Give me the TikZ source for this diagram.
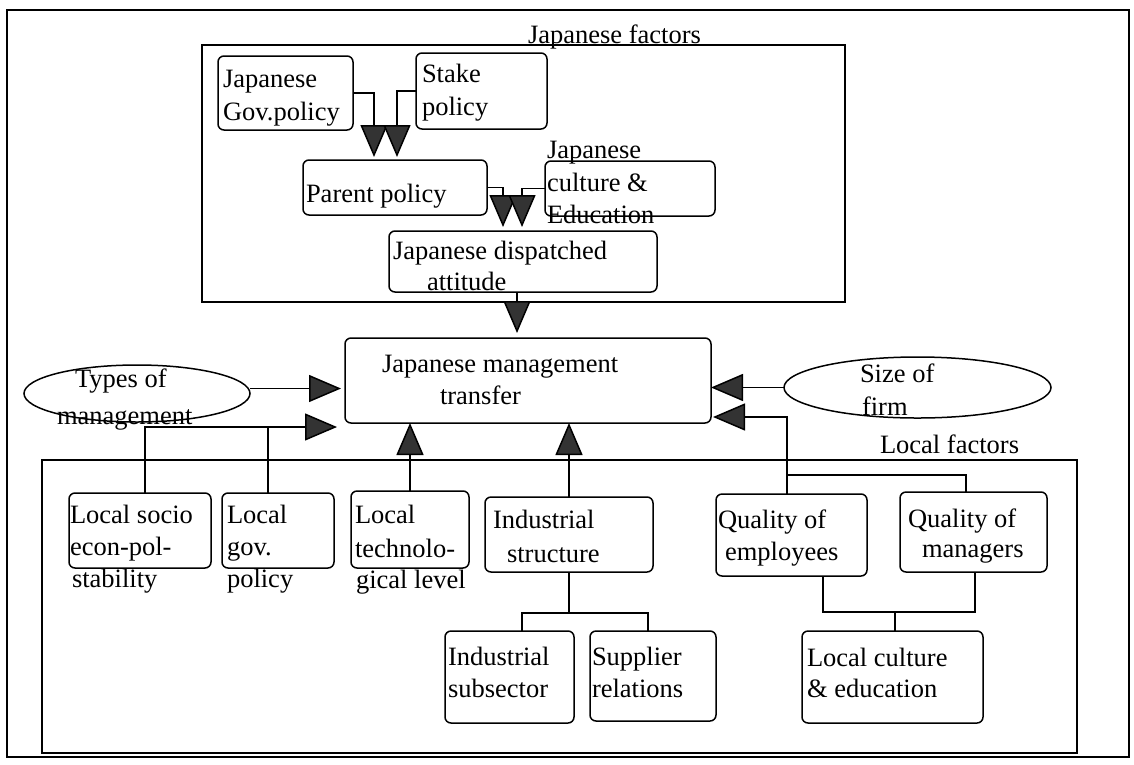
\documentclass[tikz,border=0pt]{standalone}
\usepackage{fontspec}
\setmainfont{Liberation Serif}
\usetikzlibrary{arrows.meta,shapes.geometric}

\begin{document}
\begin{tikzpicture}[x=1pt,y=-1pt,
  every node/.style={inner sep=0pt, outer sep=0pt},
  lbl/.style={anchor=base west, font=\fontsize{26.5}{32}\selectfont},
  factor/.style={draw, line width=1.5pt, rounded corners=6pt},
  oval/.style={draw, line width=1.5pt, ellipse},
  frame/.style={draw, line width=1.5pt},
  link/.style={line width=1.5pt},
  arr/.style={link, -{Triangle[length=32pt,width=27pt,fill=black!80]}},
]
\useasboundingbox (0,0) rectangle (1134,764);

% frames
\draw[frame] (7,10) rectangle (1129,757);
\draw[frame] (202,45) rectangle (845,302);
\draw[frame] (42,460) rectangle (1077,753);

% Japanese factors
\node[factor, minimum width=135, minimum height=74] (gov) at (285.5,93) {};
\node[factor, minimum width=131, minimum height=76] (stake) at (481.5,91) {};
\node[factor, minimum width=184, minimum height=55] (parent) at (395,187.5) {};
\node[factor, minimum width=170, minimum height=55] (culture) at (630,188.5) {};
\node[factor, minimum width=268, minimum height=61] (disp) at (523,261.5) {};

% centre
\node[factor, minimum width=366, minimum height=85] (jmt) at (528,380.5) {};
\node[oval, minimum width=226, minimum height=57] (types) at (137,393.5) {};
\node[oval, minimum width=267, minimum height=61] (size) at (917.5,387.5) {};

% local factors
\node[factor, minimum width=142, minimum height=75] (lsocio) at (140,530.5) {};
\node[factor, minimum width=112, minimum height=75] (lgov) at (278,530.5) {};
\node[factor, minimum width=118, minimum height=77] (ltech) at (410,529.5) {};
\node[factor, minimum width=168, minimum height=75] (ind) at (569,534.5) {};
\node[factor, minimum width=151, minimum height=82] (emp) at (791.5,535) {};
\node[factor, minimum width=147, minimum height=80] (mgr) at (973.5,532) {};
\node[factor, minimum width=129, minimum height=92] (isub) at (509.5,677) {};
\node[factor, minimum width=126, minimum height=90] (supp) at (653,676) {};
\node[factor, minimum width=181, minimum height=92] (lcult) at (892.5,677) {};

% labels
\node[lbl] (t-jf) at (528,43) {Japanese factors};
\node[lbl] (t-gov1) at (223,87) {Japanese};
\node[lbl] (t-gov2) at (223,120) {Gov.policy};
\node[lbl] (t-st1) at (422,82) {Stake};
\node[lbl] (t-st2) at (422,115) {policy};
\node[lbl] (t-par) at (306,202) {Parent policy};
\node[lbl] (t-cu1) at (547,158) {Japanese};
\node[lbl] (t-cu2) at (547,191) {culture \&};
\node[lbl] (t-cu3) at (547,223) {Education};
\node[lbl] (t-di1) at (393,259) {Japanese dispatched};
\node[lbl] (t-di2) at (427,290) {attitude};
\node[lbl] (t-jm1) at (382,372) {Japanese management};
\node[lbl] (t-jm2) at (440,404) {transfer};
\node[lbl] (t-ty1) at (75,387) {Types of};
\node[lbl] (t-ty2) at (57,424) {management};
\node[lbl] (t-sz1) at (860,382) {Size of};
\node[lbl] (t-sz2) at (862,415) {firm};
\node[lbl] (t-lf) at (880,453) {Local factors};
\node[lbl] (t-so1) at (70,523) {Local socio};
\node[lbl] (t-so2) at (70,555) {econ-pol-};
\node[lbl] (t-so3) at (72,587) {stability};
\node[lbl] (t-lg1) at (227,523) {Local};
\node[lbl] (t-lg2) at (227,555) {gov.};
\node[lbl] (t-lg3) at (227,587) {policy};
\node[lbl] (t-lt1) at (355,523) {Local};
\node[lbl] (t-lt2) at (355,557) {technolo-};
\node[lbl] (t-lt3) at (356,588) {gical level};
\node[lbl] (t-in1) at (493,528) {Industrial};
\node[lbl] (t-in2) at (507,562) {structure};
\node[lbl] (t-em1) at (718,528) {Quality of};
\node[lbl] (t-em2) at (725,560) {employees};
\node[lbl] (t-mg1) at (908,527) {Quality of};
\node[lbl] (t-mg2) at (922,557) {managers};
\node[lbl] (t-is1) at (448,665) {Industrial};
\node[lbl] (t-is2) at (448,697) {subsector};
\node[lbl] (t-sp1) at (592,665) {Supplier};
\node[lbl] (t-sp2) at (592,697) {relations};
\node[lbl] (t-lc1) at (807,666) {Local culture};
\node[lbl] (t-lc2) at (807,697) {\& education};

% connectors inside the Japanese factors frame
\draw[arr] (gov.east) -| ([xshift=71pt,yshift=3pt]parent.north west);
\draw[arr] (stake.west) -| ([xshift=94pt,yshift=3pt]parent.north west);
\draw[arr] (parent.east) -| ([xshift=114pt,yshift=4pt]disp.north west);
\draw[arr] (culture.west) -| ([xshift=133pt,yshift=4pt]disp.north west);
\draw[arr] ([xshift=128pt]disp.south west) -- ([xshift=172pt,yshift=5pt]jmt.north west);

% ovals
\path (types.east) ++(0,-5) coordinate (tS);
\path (jmt.west |- tS) ++(-4,0) coordinate (tE);
\draw[arr] (tS) -- (tE);
\draw[arr] (size.west) -- (size.west -| jmt.east);

% local factors into the centre
\path (jmt.south west) ++(-8,4) coordinate (bE);
\path (lsocio.north west) ++(76,0) coordinate (lsT);
\path (lgov.north west) ++(46,0) coordinate (lgT);
\draw[arr] (lsT) |- (bE);
\draw[link] (lgT) -- (lgT |- bE);
\draw[arr] (ltech.north) -- (ltech.north |- jmt.south);
\draw[arr] (ind.north) -- (ind.north |- jmt.south);

\path (emp.north west) ++(71,0) coordinate (eT);
\path (jmt.south east) ++(2,-6) coordinate (rE);
\draw[arr] (eT) |- (rE);
\path (eT) ++(0,-19) coordinate (eJ);
\path (mgr.north west) ++(66,0) coordinate (mT);
\draw[link] (eJ) -| (mT);

% sub-factors
\path (ind.south) ++(0,41) coordinate (iJ);
\path (isub.north west) ++(77,0) coordinate (isT);
\path (supp.north west) ++(58,0) coordinate (spT);
\draw[link] (ind.south) -- (iJ);
\draw[link] (isT) |- (iJ) -| (spT);

\path (emp.south west) ++(107,0) coordinate (eB);
\path (mgr.south west) ++(75,0) coordinate (mB);
\path (lcult.north west) ++(93,0) coordinate (lcT);
\path (lcT) ++(0,-19) coordinate (qJ);
\draw[link] (eB) |- (qJ) -| (mB);
\draw[link] (qJ) -- (lcT);
\end{tikzpicture}
\end{document}
